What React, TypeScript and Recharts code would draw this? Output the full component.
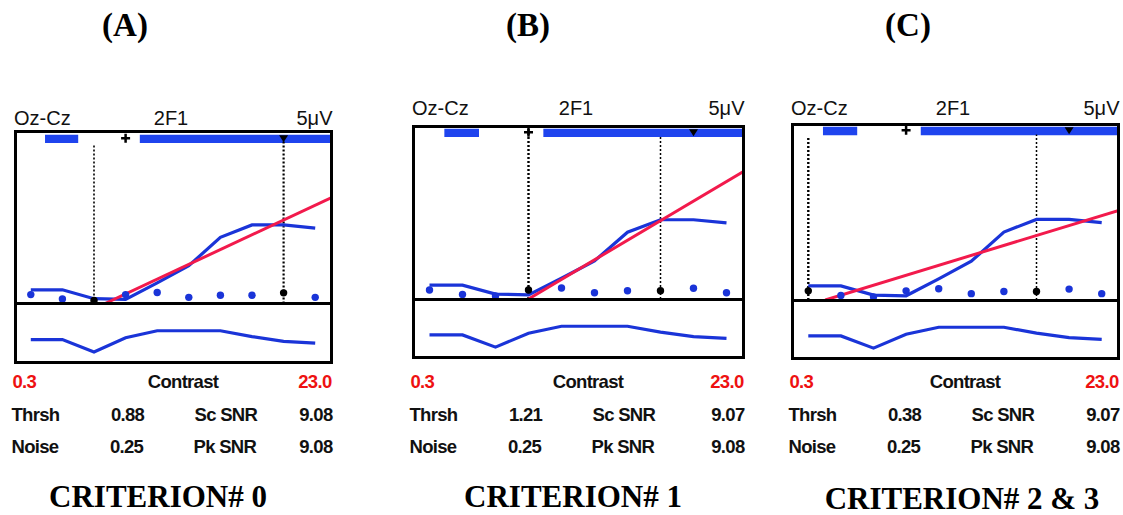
import React from "react";
import {
  ComposedChart,
  Line,
  XAxis,
  YAxis,
  ReferenceLine,
  ReferenceArea,
  ReferenceDot,
} from "recharts";

// ── Data (shared recording, three scoring criteria) ──────────────────────────

const steps = [0, 1, 2, 3, 4, 5, 6, 7, 8, 9];
const amplitude = [0.4, 0.4, 0.14, 0.12, 0.6, 1.1, 1.93, 2.29, 2.29, 2.2];
const noise = [0.26, 0.13, 0.09, 0.26, 0.32, 0.18, 0.24, 0.24, 0.31, 0.18];
const phase = [38, 38, 17, 41, 53, 53, 53, 43, 35, 32];

const fitA = [
  { x: 2.35, y: 0 },
  { x: 9.5, y: 3.08 },
];
const fitB = [
  { x: 3, y: 0 },
  { x: 9.5, y: 3.68 },
];
const fitC = [
  { x: 0.52, y: 0 },
  { x: 9.5, y: 2.54 },
];

const panelLetters = ["(A)", "(B)", "(C)"];
const criteria = ["CRITERION# 0", "CRITERION# 1", "CRITERION# 2 & 3"];
const thrshValues = ["0.88", "1.21", "0.38"];
const noiseValues = ["0.25", "0.25", "0.25"];
const scSnrValues = ["9.08", "9.07", "9.07"];
const pkSnrValues = ["9.08", "9.08", "9.08"];
const thrshIndex = [2, 3, 0];
const peakIndex = [8, 7, 7];
const sigBars = [
  [0.45, 1.5],
  [3.45, 9.5],
];

// ── Colors ───────────────────────────────────────────────────────────────────

const BLUE = "#1a34d8";
const BAR_BLUE = "#1f44ee";
const RED = "#f21a4c";
const TXT_RED = "#ee1111";

const SANS = '"Liberation Sans", Arial, sans-serif';
const SERIF = '"Liberation Serif", "Times New Roman", serif';

// ── Layout per panel (page pixels) ───────────────────────────────────────────

const layouts = [
  { left: 13.5, top: 130, width: 319, height: 233.5, divider: 303, headY: 117, letterX: 125, critX: 158, critY: 497, fit: fitA, thrTop: 4.62, pkTop: 4.9, thrW: 1.6, pkW: 2.2 },
  { left: 411.5, top: 124.5, width: 333, height: 234, divider: 299, headY: 107, letterX: 528, critX: 573, critY: 497, fit: fitB, thrTop: 5, pkTop: 4.68, thrW: 2.4, pkW: 1.5 },
  { left: 790.5, top: 122.5, width: 329, height: 237, divider: 300, headY: 107, letterX: 908, critX: 962, critY: 499, fit: fitC, thrTop: 4.6, pkTop: 4.7, thrW: 2.4, pkW: 1.5 },
];

const mainData = steps.map((s, i) => ({ x: s, amp: amplitude[i], noise: noise[i] }));
const phaseData = steps.map((s, i) => ({ x: s, phase: phase[i] }));

function Label({ x, y, children, align = "left", style }: any) {
  const tx = align === "center" ? "-50%" : align === "right" ? "-100%" : "0";
  return (
    <div
      style={{
        position: "absolute",
        left: x,
        top: y,
        transform: `translate(${tx}, -50%)`,
        whiteSpace: "nowrap",
        lineHeight: 0.85,
        ...style,
      }}
    >
      {children}
    </div>
  );
}

const plusShape = (p: any) => (
  <path
    d={`M${p.cx - 4.5},${p.cy} h9 M${p.cx},${p.cy - 4.5} v9`}
    stroke="#000"
    strokeWidth={2.5}
  />
);

const downTriangle = (p: any) => (
  <polygon
    points={`${p.cx - 4.5},${p.cy - 3} ${p.cx + 4.5},${p.cy - 3} ${p.cx},${p.cy + 4}`}
    fill="#000"
  />
);

function Panel({ idx }: { idx: number }) {
  const L = layouts[idx];
  const innerLeft = L.left + 1.5;
  const innerTop = L.top + 1.5;
  const w = L.width - 3;
  const upperH = L.divider - innerTop;
  const lowerH = L.top + L.height - 1.5 - L.divider;
  const right = L.left + L.width;
  const thr = thrshIndex[idx];
  const pk = peakIndex[idx];

  const noiseDot = (p: any) => (
    <circle
      key={`n${p.index}`}
      cx={p.cx}
      cy={p.cy}
      r={3.7}
      fill={p.index === thr || p.index === pk ? "#000" : BLUE}
    />
  );

  const statLabel = { fontFamily: SANS, fontWeight: 700, fontSize: 18.5, letterSpacing: -0.7, color: "#111" };
  const headLabel = { fontFamily: SANS, fontSize: 20, color: "#111" };

  return (
    <>
      <Label x={L.letterX} y={25} align="center" style={{ fontFamily: SERIF, fontWeight: 700, fontSize: 33 }}>
        {panelLetters[idx]}
      </Label>

      <Label x={L.left + 0.5} y={L.headY + 1} style={headLabel}>Oz-Cz</Label>
      <Label x={L.left + L.width / 2 - 2} y={L.headY + 1} align="center" style={headLabel}>2F1</Label>
      <Label x={right} y={L.headY + 1} align="right" style={headLabel}>5μV</Label>

      <div style={{ position: "absolute", left: innerLeft, top: innerTop }}>
        <ComposedChart width={w} height={upperH} data={mainData} margin={{ top: 0, right: 0, bottom: 0, left: 0 }}>
          <XAxis type="number" dataKey="x" domain={[-0.5, 9.5]} hide />
          <YAxis type="number" domain={[0, 5]} hide />
          {sigBars.map(([a, b], i) => (
            <ReferenceArea key={i} x1={a} x2={b} y1={4.68} y2={4.92} fill={BAR_BLUE} fillOpacity={1} stroke="none" />
          ))}
          <ReferenceLine segment={[{ x: thr, y: 0 }, { x: thr, y: L.thrTop }]} stroke="#000" strokeWidth={L.thrW} strokeDasharray="2 2" />
          <ReferenceLine segment={[{ x: pk, y: 0 }, { x: pk, y: L.pkTop }]} stroke="#000" strokeWidth={L.pkW} strokeDasharray="2 2" />
          <Line dataKey="amp" stroke={BLUE} strokeWidth={3.2} dot={false} isAnimationActive={false} />
          <Line dataKey="noise" stroke="none" dot={noiseDot} activeDot={false} isAnimationActive={false} />
          <Line data={L.fit} dataKey="y" stroke={RED} strokeWidth={3} dot={false} isAnimationActive={false} />
          <ReferenceDot x={3} y={4.82} r={0} shape={plusShape} />
          <ReferenceDot x={8} y={4.82} r={0} shape={downTriangle} />
        </ComposedChart>
      </div>

      <div style={{ position: "absolute", left: innerLeft, top: L.divider }}>
        <ComposedChart width={w} height={lowerH} data={phaseData} margin={{ top: 0, right: 0, bottom: 0, left: 0 }}>
          <XAxis type="number" dataKey="x" domain={[-0.5, 9.5]} hide />
          <YAxis type="number" domain={[0, 100]} hide />
          <Line dataKey="phase" stroke={BLUE} strokeWidth={3.2} dot={false} isAnimationActive={false} />
        </ComposedChart>
      </div>

      <div
        style={{
          position: "absolute",
          left: L.left,
          top: L.top,
          width: L.width,
          height: L.height,
          border: "3px solid #000",
          boxSizing: "border-box",
          pointerEvents: "none",
        }}
      />
      <div style={{ position: "absolute", left: L.left, top: L.divider - 1.5, width: L.width, height: 3, background: "#000" }} />

      <Label x={L.left - 1} y={382} style={{ ...statLabel, color: TXT_RED }}>0.3</Label>
      <Label x={L.left + L.width / 2 + 10} y={382} align="center" style={statLabel}>Contrast</Label>
      <Label x={right - 1} y={382} align="right" style={{ ...statLabel, color: TXT_RED }}>23.0</Label>

      <Label x={L.left - 2} y={415} style={statLabel}>Thrsh</Label>
      <Label x={L.left + 114} y={415} align="center" style={statLabel}>{thrshValues[idx]}</Label>
      <Label x={L.left + 181} y={415} style={statLabel}>Sc SNR</Label>
      <Label x={right} y={415} align="right" style={statLabel}>{scSnrValues[idx]}</Label>

      <Label x={L.left - 2} y={447} style={statLabel}>Noise</Label>
      <Label x={L.left + 113} y={447} align="center" style={statLabel}>{noiseValues[idx]}</Label>
      <Label x={L.left + 180} y={447} style={statLabel}>Pk SNR</Label>
      <Label x={right} y={447} align="right" style={statLabel}>{pkSnrValues[idx]}</Label>

      <Label x={L.critX} y={L.critY} align="center" style={{ fontFamily: SERIF, fontWeight: 700, fontSize: 31 }}>
        {criteria[idx]}
      </Label>
    </>
  );
}

export default function App() {
  return (
    <div style={{ position: "absolute", left: 0, top: 0, width: 1123, height: 515, background: "#fff", overflow: "hidden" }}>
      {[0, 1, 2].map((i) => (
        <Panel key={i} idx={i} />
      ))}
    </div>
  );
}
